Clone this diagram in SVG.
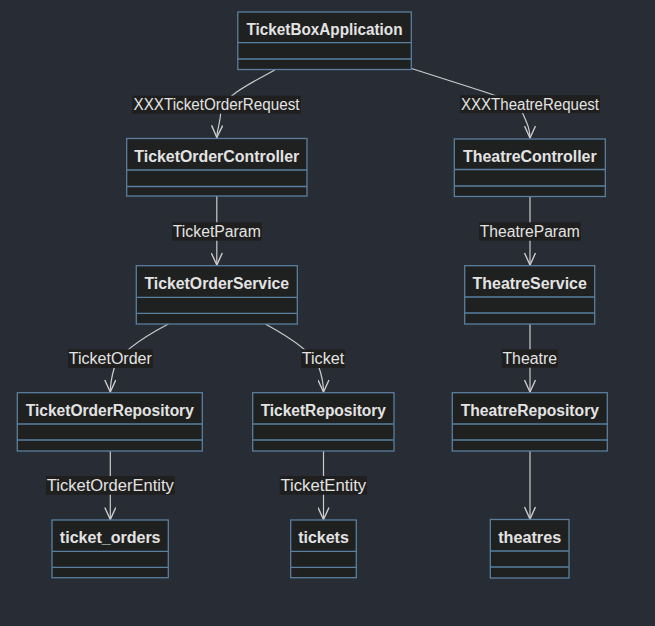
<svg xmlns="http://www.w3.org/2000/svg" width="655" height="626" viewBox="0 0 655 626">
<style>
.box{fill:#1f2020;stroke:#5a7fa0;stroke-width:1.3}
.div{stroke:#5a7fa0;stroke-width:1.3}
.title{font-family:"Liberation Sans",Arial,sans-serif;font-weight:bold;font-size:16px;fill:#e3e3e3;text-anchor:middle}
.edge{fill:none;stroke:#cccccc;stroke-width:1.2}
.lbg{fill:#1f1f1f}
.lbl{font-family:"Liberation Sans",Arial,sans-serif;font-size:16px;fill:#e3e3e3;text-anchor:middle}
</style>
<defs>
<marker id="arr" viewBox="0 0 14 12" refX="13" refY="6" markerWidth="14" markerHeight="12" markerUnits="userSpaceOnUse" orient="auto">
<path d="M1,0.5 L13,6 L1,11.5" fill="none" stroke="#cccccc" stroke-width="1.4"/>
</marker>
</defs>
<rect x="0" y="0" width="655" height="626" fill="#282c34"/>
<g id="connectors">
<path class="edge" marker-end="url(#arr)" d="M275.6,69.5 C245,86 222,98 220.8,112 C220,124 217,130 216.8,137.5"/>
<path class="edge" marker-end="url(#arr)" d="M411.5,68.5 L485,92 C508,99.5 519,106 523,114 C527,123 530,129 530,138"/>
<path class="edge" marker-end="url(#arr)" d="M216.8,196 L216.8,265"/>
<path class="edge" marker-end="url(#arr)" d="M530,197 L530,265"/>
<path class="edge" marker-end="url(#arr)" d="M168.3,324 C140,339 119,354 114.5,367 C111.5,377 110.3,384 110.3,392"/>
<path class="edge" marker-end="url(#arr)" d="M265.3,324 C291,338 312,352 318.5,366 C322,376 323.5,384 323.5,392"/>
<path class="edge" marker-end="url(#arr)" d="M530,324 L530,392"/>
<path class="edge" marker-end="url(#arr)" d="M110.3,451 L110.3,519.5"/>
<path class="edge" marker-end="url(#arr)" d="M323.5,451 L323.5,519.5"/>
<path class="edge" marker-end="url(#arr)" d="M530,451 L530,519"/>
<rect class="lbg" x="132.3" y="95.7" width="168.4" height="18"/>
<text class="lbl" x="216.5" y="110.2" textLength="166" lengthAdjust="spacingAndGlyphs">XXXTicketOrderRequest</text>
<rect class="lbg" x="460" y="95.2" width="140" height="18"/>
<text class="lbl" x="530" y="109.7" textLength="138" lengthAdjust="spacingAndGlyphs">XXXTheatreRequest</text>
<rect class="lbg" x="172" y="222.3" width="89.7" height="18.4"/>
<text class="lbl" x="216.8" y="237" textLength="88" lengthAdjust="spacingAndGlyphs">TicketParam</text>
<rect class="lbg" x="479" y="222.3" width="101.7" height="18.4"/>
<text class="lbl" x="529.8" y="237" textLength="100" lengthAdjust="spacingAndGlyphs">TheatreParam</text>
<rect class="lbg" x="68" y="349.3" width="84.7" height="18.7"/>
<text class="lbl" x="110.3" y="364" textLength="83" lengthAdjust="spacingAndGlyphs">TicketOrder</text>
<rect class="lbg" x="301" y="349.3" width="44" height="18.7"/>
<text class="lbl" x="323" y="364" textLength="42.5" lengthAdjust="spacingAndGlyphs">Ticket</text>
<rect class="lbg" x="501.7" y="349.3" width="56" height="18.4"/>
<text class="lbl" x="529.7" y="364" textLength="54.5" lengthAdjust="spacingAndGlyphs">Theatre</text>
<rect class="lbg" x="46" y="476" width="128.7" height="18.7"/>
<text class="lbl" x="110.3" y="490.7" textLength="127" lengthAdjust="spacingAndGlyphs">TicketOrderEntity</text>
<rect class="lbg" x="279.7" y="476" width="87.3" height="18.7"/>
<text class="lbl" x="323.3" y="490.7" textLength="85.7" lengthAdjust="spacingAndGlyphs">TicketEntity</text>
</g>
<g id="TicketBoxApplication">
<rect class="box" x="237.8" y="12" width="173.5" height="57.5"/>
<line class="div" x1="237.8" y1="42.7" x2="411.3" y2="42.7"/>
<line class="div" x1="237.8" y1="59" x2="411.3" y2="59"/>
<text class="title" x="324.5" y="35" textLength="156" lengthAdjust="spacingAndGlyphs">TicketBoxApplication</text>
</g>
<g id="TicketOrderController">
<rect class="box" x="126.7" y="138.5" width="180.3" height="57.5"/>
<line class="div" x1="126.7" y1="170" x2="307" y2="170"/>
<line class="div" x1="126.7" y1="186.5" x2="307" y2="186.5"/>
<text class="title" x="216.8" y="161.5" textLength="165" lengthAdjust="spacingAndGlyphs">TicketOrderController</text>
</g>
<g id="TheatreController">
<rect class="box" x="454.3" y="139" width="151" height="57.5"/>
<line class="div" x1="454.3" y1="169.5" x2="605.3" y2="169.5"/>
<line class="div" x1="454.3" y1="186" x2="605.3" y2="186"/>
<text class="title" x="529.8" y="161.5" textLength="133.7" lengthAdjust="spacingAndGlyphs">TheatreController</text>
</g>
<g id="TicketOrderService">
<rect class="box" x="136.3" y="265.7" width="161" height="58.3"/>
<line class="div" x1="136.3" y1="297.3" x2="297.3" y2="297.3"/>
<line class="div" x1="136.3" y1="313.3" x2="297.3" y2="313.3"/>
<text class="title" x="216.8" y="288.7" textLength="144.7" lengthAdjust="spacingAndGlyphs">TicketOrderService</text>
</g>
<g id="TheatreService">
<rect class="box" x="464.7" y="265.7" width="130" height="58.3"/>
<line class="div" x1="464.7" y1="297" x2="594.7" y2="297"/>
<line class="div" x1="464.7" y1="313" x2="594.7" y2="313"/>
<text class="title" x="529.7" y="288.7" textLength="114.3" lengthAdjust="spacingAndGlyphs">TheatreService</text>
</g>
<g id="TicketOrderRepository">
<rect class="box" x="17.3" y="392.7" width="185" height="58.3"/>
<line class="div" x1="17.3" y1="424" x2="202.3" y2="424"/>
<line class="div" x1="17.3" y1="440" x2="202.3" y2="440"/>
<text class="title" x="109.8" y="415.7" textLength="168" lengthAdjust="spacingAndGlyphs">TicketOrderRepository</text>
</g>
<g id="TicketRepository">
<rect class="box" x="252.7" y="392.7" width="141.3" height="58.3"/>
<line class="div" x1="252.7" y1="424" x2="394" y2="424"/>
<line class="div" x1="252.7" y1="440" x2="394" y2="440"/>
<text class="title" x="323.3" y="415.7" textLength="125.3" lengthAdjust="spacingAndGlyphs">TicketRepository</text>
</g>
<g id="TheatreRepository">
<rect class="box" x="452.3" y="392.7" width="155" height="58.3"/>
<line class="div" x1="452.3" y1="424" x2="607.3" y2="424"/>
<line class="div" x1="452.3" y1="440" x2="607.3" y2="440"/>
<text class="title" x="529.8" y="415.7" textLength="138.3" lengthAdjust="spacingAndGlyphs">TheatreRepository</text>
</g>
<g id="ticket_orders">
<rect class="box" x="52" y="520" width="116.3" height="57.7"/>
<line class="div" x1="52" y1="551.3" x2="168.3" y2="551.3"/>
<line class="div" x1="52" y1="567.3" x2="168.3" y2="567.3"/>
<text class="title" x="110.2" y="543.2" textLength="100.7" lengthAdjust="spacingAndGlyphs">ticket_orders</text>
</g>
<g id="tickets">
<rect class="box" x="290.7" y="520" width="65.6" height="57.7"/>
<line class="div" x1="290.7" y1="551.3" x2="356.3" y2="551.3"/>
<line class="div" x1="290.7" y1="567.3" x2="356.3" y2="567.3"/>
<text class="title" x="323.5" y="543.2" textLength="50.7" lengthAdjust="spacingAndGlyphs">tickets</text>
</g>
<g id="theatres">
<rect class="box" x="490.3" y="519.5" width="78.7" height="58.5"/>
<line class="div" x1="490.3" y1="551" x2="569" y2="551"/>
<line class="div" x1="490.3" y1="567" x2="569" y2="567"/>
<text class="title" x="529.7" y="543.2" textLength="63" lengthAdjust="spacingAndGlyphs">theatres</text>
</g>
</svg>
